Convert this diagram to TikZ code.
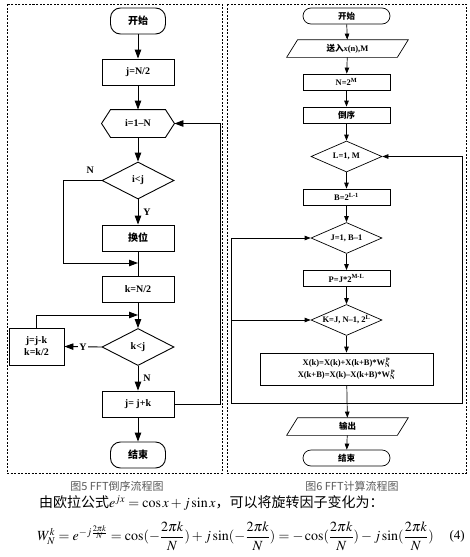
\documentclass[tikz,border=0pt]{standalone}
\usepackage{amsmath}
\usepackage{mathptmx}
\usepackage{fontspec}
\setmainfont{Liberation Serif}
\newfontfamily\cjk{Noto Sans CJK SC}
\usetikzlibrary{shapes.geometric,arrows.meta,calc}
\newcommand{\zh}[1]{{\cjk\bfseries #1}}
\begin{document}
\begin{tikzpicture}[x=1pt,y=-1pt,
  lline/.style={line width=0.9pt},
  larr/.style={line width=0.9pt,-{Triangle[length=9pt,width=6.5pt]}},
  lbox/.style={draw,line width=0.9pt,minimum width=72pt,minimum height=26pt,inner sep=0pt,font=\bfseries\fontsize{10}{12}\selectfont},
  lterm/.style={lbox,rounded corners=10pt,minimum width=55pt},
  ldia/.style={diamond,draw,line width=0.9pt,minimum width=72pt,minimum height=37pt,aspect=2,inner sep=0pt,font=\bfseries\fontsize{10}{12}\selectfont},
  lab/.style={font=\bfseries\fontsize{10}{12}\selectfont,inner sep=1pt},
  rline/.style={line width=0.7pt},
  rarr/.style={line width=0.7pt,-{Triangle[length=6pt,width=4.5pt]}},
  rbox/.style={draw,line width=0.7pt,minimum width=87pt,minimum height=16pt,inner sep=0pt,font=\bfseries\fontsize{8.5}{10.5}\selectfont},
  rterm/.style={rbox,rounded corners=8pt},
  rpar/.style={rbox,draw=none,minimum width=110pt,minimum height=17pt},
  rdia/.style={diamond,draw,line width=0.7pt,minimum width=71pt,minimum height=31pt,aspect=2.3,inner sep=0pt,font=\bfseries\fontsize{8.5}{10.5}\selectfont},
  panel/.style={draw,line width=0.5pt,dash pattern=on 2pt off 1.5pt},
  captext/.style={font=\cjk\fontsize{11}{13}\selectfont,text=black!65}
]
\useasboundingbox (0,0) rectangle (470,557);
% panels
\draw[panel] (7,4) rectangle (222,473);
\draw[panel] (227,4) rectangle (466,473);

% ---------- left chart ----------
\node[lterm] (s1) at (138,21) {\zh{开始}};
\node[lbox] (a1) at (138,72) {j=N/2};
\node[lbox,draw=none,minimum height=27pt] (h1) at (138,123.5) {i=1--N};
\draw[lline] (h1.west) -- ($(h1.north west)+(9pt,0pt)$) -- ($(h1.north east)+(-9pt,0pt)$) -- (h1.east) -- ($(h1.south east)+(-9pt,0pt)$) -- ($(h1.south west)+(9pt,0pt)$) -- cycle;
\node[ldia] (d1) at (138,180.5) {i<j};
\node[lbox] (a2) at (138,238) {\zh{换位}};
\node[lbox] (a3) at (138,289.5) {k=N/2};
\node[ldia] (d2) at (138,347) {k<j};
\node[lbox,minimum width=55pt,minimum height=37pt,align=center] (a4) at (36.5,346.5) {j=j-k\\k=k/2};
\node[lbox] (a5) at (138,404) {j= j+k};
\node[lterm] (e1) at (138,455) {\zh{结束}};

\coordinate (m1) at (138,263);
\coordinate (m2) at (138,315);

\draw[larr] (s1) -- (a1);
\draw[larr] (a1) -- (h1);
\draw[larr] (h1) -- (d1);
\draw[larr] (d1) -- node[lab,right=4pt]{Y} (a2);
\draw[lline] (a2) -- (a3);
\draw[larr] (d1.west) -- node[lab,above=6pt,pos=0.3]{N} ++(-38pt,0pt) |- (m1);
\draw[larr] (a3) -- (d2);
\draw[larr] (a4.north) |- (m2);
\draw[larr] (d2.west) -- node[lab,fill=white]{Y} (a4.east);
\draw[larr] (d2) -- node[lab,right=4pt]{N} (a5);
\draw[larr] (a5) -- (e1);
\draw[larr] (a5.east) -- ++(46pt,0pt) |- (h1.east);

% ---------- right chart ----------
\node[rterm] (s2) at (346.5,16) {\zh{开始}};
\node[rpar] (p1) at (347.5,48.5) {\zh{送入}\textit{x}(n),M};
\draw[rline] ($(p1.south west)+(-5.5pt,0pt)$) -- ($(p1.north west)+(5.5pt,0pt)$) -- ($(p1.north east)+(5.5pt,0pt)$) -- ($(p1.south east)+(-5.5pt,0pt)$) -- cycle;
\node[rbox] (b1) at (346.5,82) {N=2\textsuperscript{M}};
\node[rbox] (b2) at (346.5,115) {\zh{倒序}};
\node[rdia] (c1) at (346.5,156.5) {L=1, M};
\node[rbox] (b3) at (346.5,197) {B=2\textsuperscript{L-1}};
\node[rdia] (c2) at (346.5,238) {J=1, B--1};
\node[rbox] (b4) at (346.5,278.5) {P=J*2\textsuperscript{M-L}};
\node[rdia] (c3) at (346.5,320) {K=J, N--1, 2\textsuperscript{L}};
\node[rbox,minimum width=173pt,minimum height=32pt,align=center] (b5) at (346.5,369) {X(k)=X(k)+X(k+B)*W$_{\mathbf{N}}^{\,\mathbf{P}}$\\[1.5pt]X(k+B)=X(k)--X(k+B)*W$_{\mathbf{N}}^{\,\mathbf{P}}$};
\node[rpar] (p2) at (347.5,426.5) {\zh{输出}};
\draw[rline] ($(p2.south west)+(-5.5pt,0pt)$) -- ($(p2.north west)+(5.5pt,0pt)$) -- ($(p2.north east)+(5.5pt,0pt)$) -- ($(p2.south east)+(-5.5pt,0pt)$) -- cycle;
\node[rterm] (e2) at (346.5,458) {\zh{结束}};

\coordinate (j0) at (346.5,403);
\coordinate (jl) at (231,403);
\coordinate (jr) at (462,403);
\coordinate (jk) at (231,320);

\draw[rarr] (s2) -- (p1);
\draw[rarr] (p1) -- (b1);
\draw[rarr] (b1) -- (b2);
\draw[rarr] (b2) -- (c1);
\draw[rarr] (c1) -- (b3);
\draw[rarr] (b3) -- (c2);
\draw[rarr] (c2) -- (b4);
\draw[rarr] (b4) -- (c3);
\draw[rarr] (c3) -- (b5);
\draw[rarr] (b5) -- (p2);
\draw[rarr] (p2) -- (e2);
\draw[rarr] (j0) -- (jl) |- (c2.west);
\draw[rarr] (jk) -- (c3.west);
\draw[rarr] (j0) -- (jr) |- (c1.east);

% ---------- captions ----------
\node[captext] (cap1) at (117,486) {图5 FFT倒序流程图};
\node[captext] (cap2) at (352,486) {图6 FFT计算流程图};

% ---------- formula text ----------
\node[anchor=west,inner sep=0pt,font=\fontsize{14}{16}\selectfont] (t1) at (39,503) {{\cjk 由欧拉公式}$e^{jx}=\cos x+j\sin x${\cjk ，可以将旋转因子变化为：}};
\node[anchor=west,inner sep=0pt,font=\fontsize{14}{16}\selectfont] (t2) at (37,536) {$W_N^k=e^{-j\frac{2\pi k}{N}}=\cos(-\dfrac{2\pi k}{N})+j\sin(-\dfrac{2\pi k}{N})=-\cos(\dfrac{2\pi k}{N})-j\sin(\dfrac{2\pi k}{N})$};
\node[anchor=east,inner sep=0pt,font=\fontsize{13}{15}\selectfont] (t3) at (465,536) {(4)};
\end{tikzpicture}
\end{document}
